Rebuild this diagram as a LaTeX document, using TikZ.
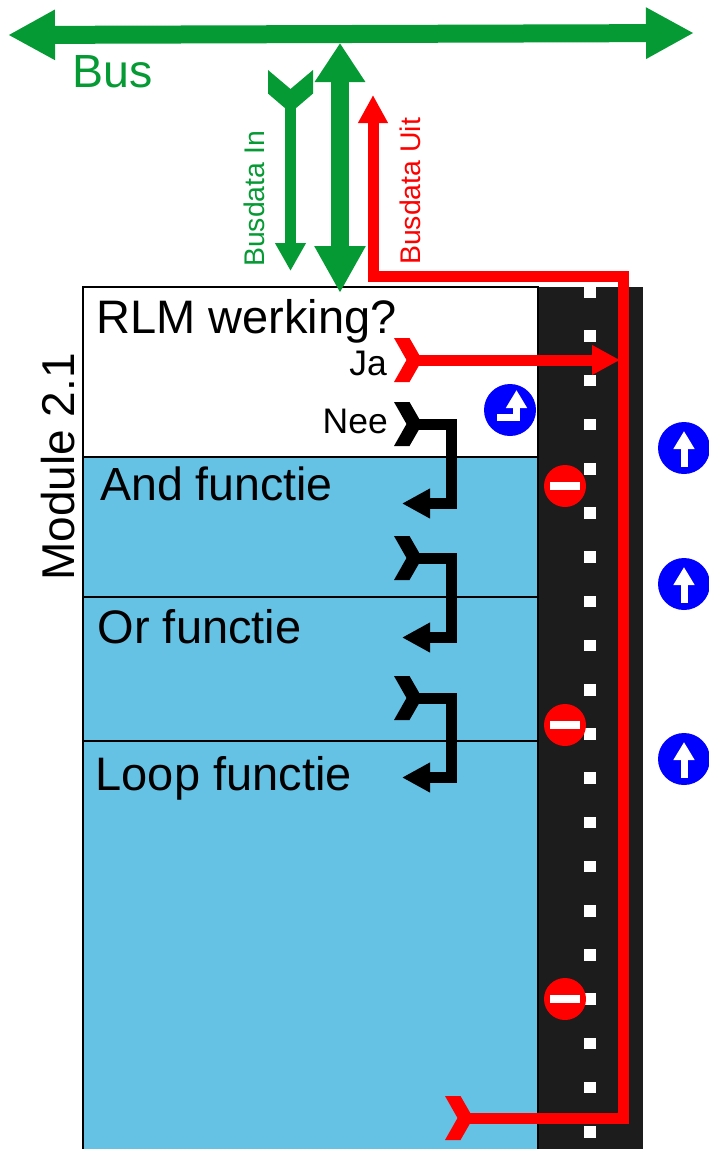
\documentclass[tikz,border=0pt]{standalone}
\usepackage{xcolor}
\usepackage{fontspec}
\setmainfont{Liberation Sans}
\usepackage{tikz}
\usetikzlibrary{arrows.meta, positioning}

\definecolor{busgreen}{HTML}{069A35}
\definecolor{panelblue}{HTML}{65C2E4}
\definecolor{roadgrey}{HTML}{1C1C1C}

\pgfdeclarearrow{
    name=Fletch,
    parameters={\the\pgfarrowlength,\the\pgfarrowwidth},
    setup code={
        \pgfarrowssettipend{0pt}
        \pgfarrowssetbackend{-\pgfarrowlength}
        \pgfarrowssetlineend{-.9\pgfarrowlength}
        \pgfarrowssavethe\pgfarrowlength
        \pgfarrowssavethe\pgfarrowwidth
    },
    drawing code={
        \pgfpathmoveto{\pgfqpoint{0pt}{.5\pgfarrowwidth}}
        \pgfpathlineto{\pgfqpoint{-.62\pgfarrowlength}{.5\pgfarrowwidth}}
        \pgfpathlineto{\pgfqpoint{-\pgfarrowlength}{.125\pgfarrowwidth}}
        \pgfpathlineto{\pgfqpoint{-\pgfarrowlength}{-.125\pgfarrowwidth}}
        \pgfpathlineto{\pgfqpoint{-.62\pgfarrowlength}{-.5\pgfarrowwidth}}
        \pgfpathlineto{\pgfqpoint{0pt}{-.5\pgfarrowwidth}}
        \pgfpathlineto{\pgfqpoint{-.5\pgfarrowlength}{0pt}}
        \pgfpathclose
        \pgfusepathqfill
    },
    defaults={length=25pt,width=44pt}
}

\begin{document}
\begin{tikzpicture}[
        x=1pt, y=-1pt,
        panel/.style={rectangle, draw, line width=1.3pt, fill=panelblue, minimum width=455pt, inner sep=0pt, outer sep=0pt},
        road/.style={rectangle, fill=roadgrey, minimum width=105pt, minimum height=870pt, inner sep=0pt, outer sep=0pt},
        roaddot/.style={rectangle, fill=white, minimum size=11.5pt, inner sep=0pt},
        noentry/.style={circle, fill=red, minimum size=42pt, inner sep=0pt},
        noentrybar/.style={rectangle, fill=white, minimum width=30pt, minimum height=8pt, inner sep=0pt},
        ahead/.style={circle, fill=blue, minimum size=52pt, inner sep=0pt},
        aheadarrow/.style={white, line width=7pt, -{Triangle[length=18pt, width=20pt]}},
        bigtext/.style={font=\fontsize{47}{50}\selectfont, inner sep=0pt},
        midtext/.style={font=\fontsize{35.5}{38}\selectfont, inner sep=0pt},
        smalltext/.style={font=\fontsize{28.4}{30}\selectfont, inner sep=0pt},
        bus/.style={busgreen, line width=18pt},
        tailarrow/.style={line width=11pt, {Fletch[length=25pt, width=44pt]}-{Triangle[length=28pt, width=28pt]}, miter limit=10}
    ]
        \useasboundingbox (0,0) rectangle (709,1149);
        % module and road
        \node[road, anchor=north west] (road) at (538,287) {};
        \node[panel, fill=white, minimum height=170pt, anchor=north west] (rlm) at (83,287) {};
        \node[panel, minimum height=140pt, below=0pt of rlm] (andf) {};
        \node[panel, minimum height=144pt, below=0pt of andf] (orf) {};
        \node[panel, minimum height=420pt, below=0pt of orf] (loopf) {};
        \foreach \i in {0,...,19}
            \node[roaddot] (dot\i) at (590,292+44.2*\i) {};
        % signs
        \foreach \name/\ypos in {n1/486, n2/725, n3/999} {
            \node[noentry] (\name) at (565,\ypos) {};
            \node[noentrybar] (\name bar) at (\name) {};
        }
        \foreach \name/\ypos in {a1/448, a2/584, a3/759} {
            \node[ahead] (\name) at (684,\ypos) {};
            \draw[aheadarrow] ([yshift=-19pt]\name.center) -- ([yshift=17pt]\name.center);
        }
        \node[ahead] (a0) at (510,410) {};
        \draw[aheadarrow] ([xshift=-13pt, yshift=-7.5pt]a0.center) -| ([xshift=6.5pt, yshift=20pt]a0.center);
        % texts
        \node[bigtext, anchor=base west] (rlmtext) at (96,333) {RLM werking?};
        \node[bigtext, anchor=base west, font=\fontsize{46.5}{50}\selectfont] (andtext) at (100,500) {And functie};
        \node[bigtext, anchor=base west] (ortext) at (97.5,643) {Or functie};
        \node[bigtext, anchor=base west] (looptext) at (95.5,790) {Loop functie};
        \node[bigtext, anchor=base west, rotate=90, font=\fontsize{46}{50}\selectfont] (modtext) at (74.5,581) {Module 2.1};
        \node[midtext, anchor=base east] (ja) at (387,375) {Ja};
        \node[midtext, anchor=base east] (nee) at (388,433) {Nee};
        \node[bigtext, anchor=base west, busgreen, font=\fontsize{46.5}{50}\selectfont] (bustext) at (72,87) {Bus};
        \node[smalltext, anchor=base west, rotate=90, busgreen] (intext) at (264.5,267) {Busdata In};
        \node[smalltext, anchor=base west, rotate=90, red] (uittext) at (420.5,265) {Busdata Uit};
        % connector ends
        \coordinate (busl) at (8,35);
        \coordinate (busr) at (694,33);
        \coordinate (busm) at (340,43);
        \coordinate (busb) at (340,293);
        \coordinate (ins) at (290.5,70);
        \coordinate (ine) at (290.5,271);
        \coordinate (uits) at (445,1118);
        \coordinate (uitc) at (623.5,276.5);
        \coordinate (uite) at (373,95);
        \coordinate (jas) at (394,360);
        \coordinate (jae) at (620,360);
        \coordinate (t1) at (394,424);
        \coordinate (h1) at (402,503.5);
        \coordinate (t2) at (394,558);
        \coordinate (h2) at (402,637.5);
        \coordinate (t3) at (394,698);
        \coordinate (h3) at (402,777.5);
        % connectors
        \draw[bus, {Triangle[length=47pt, width=47pt]}-{Triangle[length=48pt, width=48pt]}] (busl) -- (busr);
        \draw[bus, {Triangle[length=39pt, width=48pt]}-{Triangle[length=47pt, width=48pt]}] (busm) -- (busb);
        \draw[tailarrow, busgreen, {Fletch[length=38pt, width=45pt]}-{Triangle[length=28pt, width=29pt]}] (ins) -- (ine);
        \draw[tailarrow, red] (uits) -| (uitc) -| (uite);
        \draw[tailarrow, red] (jas) -- (jae);
        \draw[tailarrow] (t1) -- (451.5,424) |- (h1);
        \draw[tailarrow] (t2) -- (451.5,558) |- (h2);
        \draw[tailarrow] (t3) -- (451.5,698) |- (h3);
    \end{tikzpicture}
\end{document}
